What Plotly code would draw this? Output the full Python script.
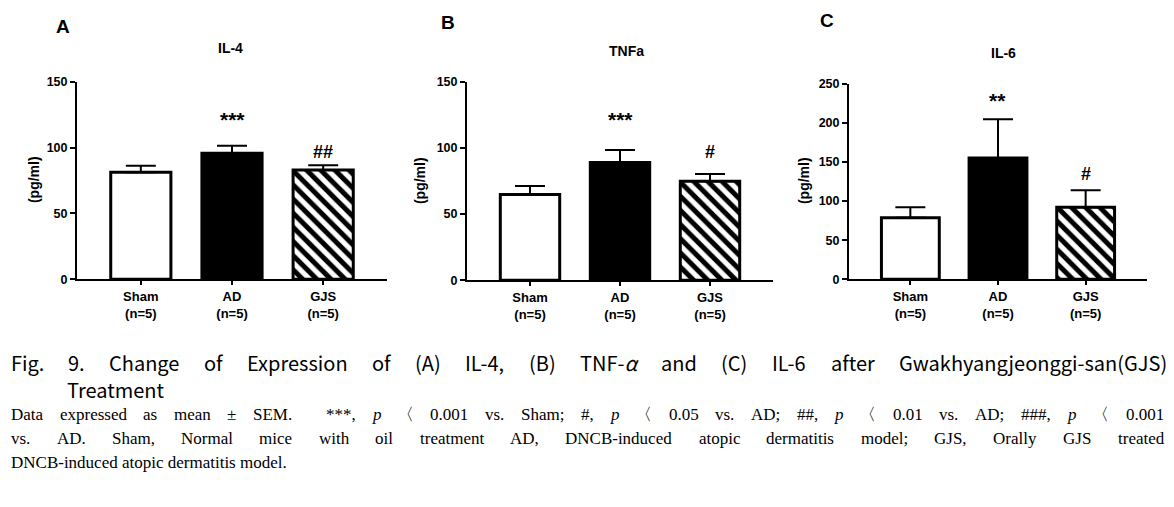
import re
import plotly.graph_objects as go

W, H = 1174, 507

groups = ["Sham<br>(n=5)", "AD<br>(n=5)", "GJS<br>(n=5)"]
il4_mean = [81.3, 95.8, 83.0]
il4_sem = [4.9, 5.7, 3.7]
tnf_mean = [64.9, 89.0, 74.8]
tnf_sem = [6.4, 9.5, 5.6]
il6_mean = [78.7, 155.0, 92.0]
il6_sem = [13.3, 49.8, 22.0]
il4_sig = ["", "***", "##"]
tnf_sig = ["", "***", "#"]
il6_sig = ["", "**", "#"]
il4_sig_y = [None, 120, 96]
tnf_sig_y = [None, 120, 96]
il6_sig_y = [None, 226, 133]
panel_titles = ["IL-4", "TNFa", "IL-6"]
panel_letters = ["A", "B", "C"]
y_ranges = [[0, 150], [0, 150], [0, 250]]
y_ticks = [[0, 50, 100, 150], [0, 50, 100, 150], [0, 50, 100, 150, 200, 250]]

caption_line1 = "Fig. 9. Change of Expression of (A) IL-4, (B) TNF-<i>α</i> and (C) IL-6 after Gwakhyangjeonggi-san(GJS)"
caption_line2 = "Treatment"
body_line1 = "Data expressed as mean ± SEM. &nbsp;***, <i>p</i> 〈 0.001 vs. Sham; #, <i>p</i> 〈 0.05 vs. AD; ##, <i>p</i> 〈 0.01 vs. AD; ###, <i>p</i> 〈 0.001"
body_line2 = "vs. AD. Sham, Normal mice with oil treatment AD, DNCB-induced atopic dermatitis model; GJS, Orally GJS treated"
body_line3 = "DNCB-induced atopic dermatitis model."

BOLD = "Liberation Sans"
fills = ["white", "black", "white"]
patterns = ["", "", "\\"]

fig = go.Figure()

boxes = [(77, 387, 77, 280), (467, 773, 77, 281), (849, 1147, 79, 280)]
means = [il4_mean, tnf_mean, il6_mean]
sems = [il4_sem, tnf_sem, il6_sem]
sigs = [il4_sig, tnf_sig, il6_sig]
sig_ys = [il4_sig_y, tnf_sig_y, il6_sig_y]

for i in range(3):
    xa = "x" if i == 0 else f"x{i+1}"
    ya = "y" if i == 0 else f"y{i+1}"
    for k in range(3):
        fig.add_trace(go.Bar(
            x=[k], y=[means[i][k]], xaxis=xa, yaxis=ya, width=0.66,
            marker=dict(
                color=fills[k],
                line=dict(color="black", width=3),
                pattern=dict(shape=patterns[k], fgcolor="black", bgcolor="white",
                             fgopacity=1, size=10, solidity=0.5),
            ),
            error_y=dict(type="data", symmetric=False, array=[sems[i][k]],
                         arrayminus=[0], thickness=2, width=15, color="black"),
            showlegend=False, hoverinfo="skip",
        ))
    l, r, t, b = boxes[i]
    axis_common = dict(showline=True, linewidth=2, linecolor="black", showgrid=False,
                       zeroline=False, ticks="outside", tickwidth=2, tickcolor="black")
    fig.layout[f"xaxis{'' if i == 0 else i+1}"] = dict(
        domain=[l / W, r / W], anchor=ya, range=[-0.7, 2.7],
        tickvals=[0, 1, 2], ticktext=groups, ticklen=4,
        tickfont=dict(family=BOLD, size=13, color="black", weight="bold"),
        **axis_common)
    fig.layout[f"yaxis{'' if i == 0 else i+1}"] = dict(
        domain=[1 - b / H, 1 - t / H], anchor=xa, range=y_ranges[i],
        tickvals=y_ticks[i], ticklen=5,
        tickfont=dict(family=BOLD, size=12.5, color="black", weight="bold"),
        **axis_common)
    for k in range(3):
        if sigs[i][k]:
            star = "*" in sigs[i][k]
            fig.add_annotation(x=k, y=sig_ys[i][k], xref=xa, yref=ya, text=sigs[i][k],
                               showarrow=False, xanchor="center", yanchor="middle",
                               yshift=2 if star else 1,
                               font=dict(family=BOLD, size=21 if star else 18,
                                         color="black", weight="bold"))

letters_pos = [(63, 20), (448, 16), (827, 14)]
titles_pos = [(231, 42), (626, 45), (1003, 47)]
ytitle_pos = [(34, 178), (420, 179), (804, 179)]
for i in range(3):
    x, y = letters_pos[i]
    fig.add_annotation(x=x / W, y=1 - y / H, xref="paper", yref="paper", text=panel_letters[i],
                       showarrow=False, xanchor="center", yanchor="middle",
                       font=dict(family=BOLD, size=19, color="black", weight="bold"))
    x, y = titles_pos[i]
    fig.add_annotation(x=x / W, y=1 - y / H, xref="paper", yref="paper", text=panel_titles[i],
                       showarrow=False, xanchor="center", yanchor="middle",
                       font=dict(family=BOLD, size=14, color="black", weight="bold"))
    x, y = ytitle_pos[i]
    fig.add_annotation(x=x / W, y=1 - y / H, xref="paper", yref="paper", text="(pg/ml)",
                       textangle=-90, showarrow=False, xanchor="center", yanchor="middle",
                       font=dict(family=BOLD, size=14, color="black", weight="bold"))

# --- approximate glyph advance widths (per 1000 em), used only to justify caption lines ---
SANS_W = dict(zip("ABCDEFGHIJKLMNOPQRSTUVWXYZ",
                  [544, 588, 570, 615, 526, 494, 615, 652, 264, 474, 579, 486, 727,
                   647, 664, 581, 664, 588, 545, 548, 647, 522, 790, 516, 483, 541]))
SANS_W.update(dict(zip("abcdefghijklmnopqrstuvwxyz",
                       [514, 552, 448, 553, 504, 290, 496, 544, 246, 247, 495, 255, 830,
                        547, 542, 552, 553, 347, 418, 338, 543, 474, 717, 455, 474, 429])))
SANS_W.update({"(": 303, ")": 303, ",": 249, ".": 249, "-": 311, "α": 560})
for d in "0123456789":
    SANS_W[d] = 497
SANS_W = {k: v * 1.1 for k, v in SANS_W.items()}
SERIF_W = dict(zip("ABCDEFGHIJKLMNOPQRSTUVWXYZ",
                   [722, 667, 667, 722, 611, 556, 722, 722, 333, 389, 722, 611, 889,
                    722, 722, 556, 722, 667, 556, 611, 722, 722, 944, 722, 722, 611]))
SERIF_W.update(dict(zip("abcdefghijklmnopqrstuvwxyz",
                        [444, 500, 444, 500, 444, 333, 500, 500, 278, 278, 500, 278, 778,
                         500, 500, 500, 500, 333, 389, 278, 500, 500, 722, 500, 500, 444])))
SERIF_W.update({"±": 564, "*": 500, ",": 250, ".": 250, ";": 278, "#": 500, "-": 333,
                "〈": 1000})
for d in "0123456789":
    SERIF_W[d] = 500


def plain(s):
    return re.sub(r"<[^>]+>", "", s).replace("&nbsp;", "")


def word_width(word, table, size):
    return sum(table.get(c, 500) for c in plain(word)) * size / 1000.0


def justify(line, table, font, x0, x1, ypx):
    words = line.split(" ")
    widths = [word_width(w, table, font["size"]) for w in words]
    gaps = len(words) - 1
    extra = [2.0 if words[j + 1].startswith("&nbsp;") else 1.0 for j in range(gaps)]
    slack = (x1 - x0) - sum(widths)
    unit = slack / sum(extra)
    x = x0
    for j, w in enumerate(words):
        fig.add_annotation(x=x / W, y=1 - ypx / H, xref="paper", yref="paper",
                           xanchor="left", yanchor="middle", text=w.replace("&nbsp;", ""),
                           showarrow=False, font=font, borderpad=0)
        if j < gaps:
            x += widths[j] + unit * extra[j]


cap_font = dict(family="Noto Sans CJK KR", size=20, color="black")
justify(caption_line1, SANS_W, cap_font, 10, 1163, 366)
fig.add_annotation(x=66 / W, y=1 - 393 / H, xref="paper", yref="paper", xanchor="left",
                   yanchor="middle", text=caption_line2, showarrow=False, font=cap_font,
                   borderpad=0)

body_font = dict(family="Liberation Serif", size=17, color="black")
justify(body_line1, SERIF_W, body_font, 10, 1163, 419)
justify(body_line2, SERIF_W, body_font, 10, 1163, 444)
fig.add_annotation(x=10 / W, y=1 - 468 / H, xref="paper", yref="paper", xanchor="left",
                   yanchor="middle", text=body_line3, showarrow=False, font=body_font,
                   borderpad=0)

fig.update_layout(width=W, height=H, margin=dict(l=0, r=0, t=0, b=0),
                  paper_bgcolor="white", plot_bgcolor="white", barmode="overlay")
fig.write_html("out.html", config={"displayModeBar": False},
               post_script="document.body.style.margin='0';document.body.style.overflow='hidden';")
